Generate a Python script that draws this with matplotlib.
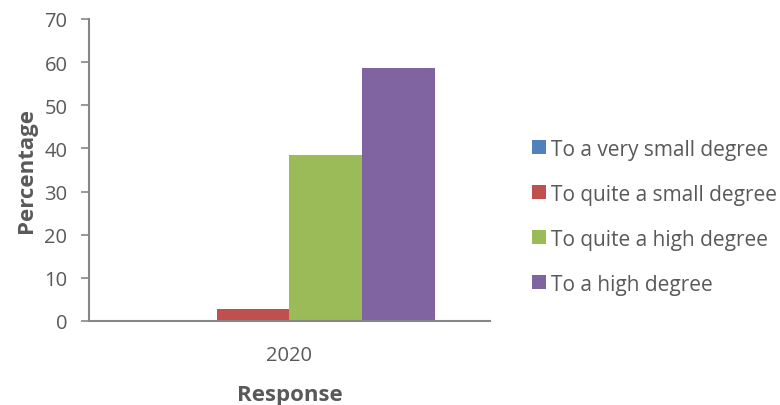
import matplotlib
matplotlib.use('Agg')
import matplotlib.pyplot as plt
import numpy as np

plt.rcParams['font.family'] = ['Open Sans', 'DejaVu Sans']

# Data
category = ['2020']
series_names = ['To a very small degree', 'To quite a small degree',
                'To quite a high degree', 'To a high degree']
values = [0, 2.8, 38.5, 58.6]
colors = ['#4F81BD', '#C0504D', '#9BBB59', '#8064A2']

text_col = '#595959'
axis_col = '#868686'

fig = plt.figure(figsize=(7.8, 4.06), dpi=100)
ax = fig.add_axes([0.114, 0.207, 0.514, 0.744])

w = 0.1816
x = np.arange(len(category))
handles = []
for i, (name, v, c) in enumerate(zip(series_names, values, colors)):
    b = ax.bar(x + (i - 1.5) * w, [v], width=w, color=c, label=name)
    handles.append(b)

ax.set_xlim(-0.5, 0.5)
ax.set_ylim(0, 70)
ax.set_yticks(range(0, 71, 10))
ax.set_xticks(x)
ax.set_xticklabels(category)

for s in ['top', 'right']:
    ax.spines[s].set_visible(False)
for s in ['left', 'bottom']:
    ax.spines[s].set_color(axis_col)
    ax.spines[s].set_linewidth(1.5)

ax.tick_params(axis='y', colors=axis_col, labelcolor=text_col, labelsize=14.5,
               length=5.5, width=1.2, pad=10)
ax.tick_params(axis='x', length=0, labelcolor=text_col, labelsize=14.5, pad=17)

ax.set_ylabel('Percentage', fontsize=16, fontweight='bold', color=text_col, labelpad=5)
ax.set_xlabel('Response', fontsize=16, fontweight='bold', color=text_col, labelpad=14)

fig.legend(handles=handles, labels=series_names, loc='center left',
           bbox_to_anchor=(0.682, 0.464), frameon=False, fontsize=15,
           labelcolor=text_col, handlelength=0.67, handleheight=0.67,
           handletextpad=0.25, labelspacing=1.15, borderpad=0,
           borderaxespad=0)

fig.savefig('out.png', dpi=100)
